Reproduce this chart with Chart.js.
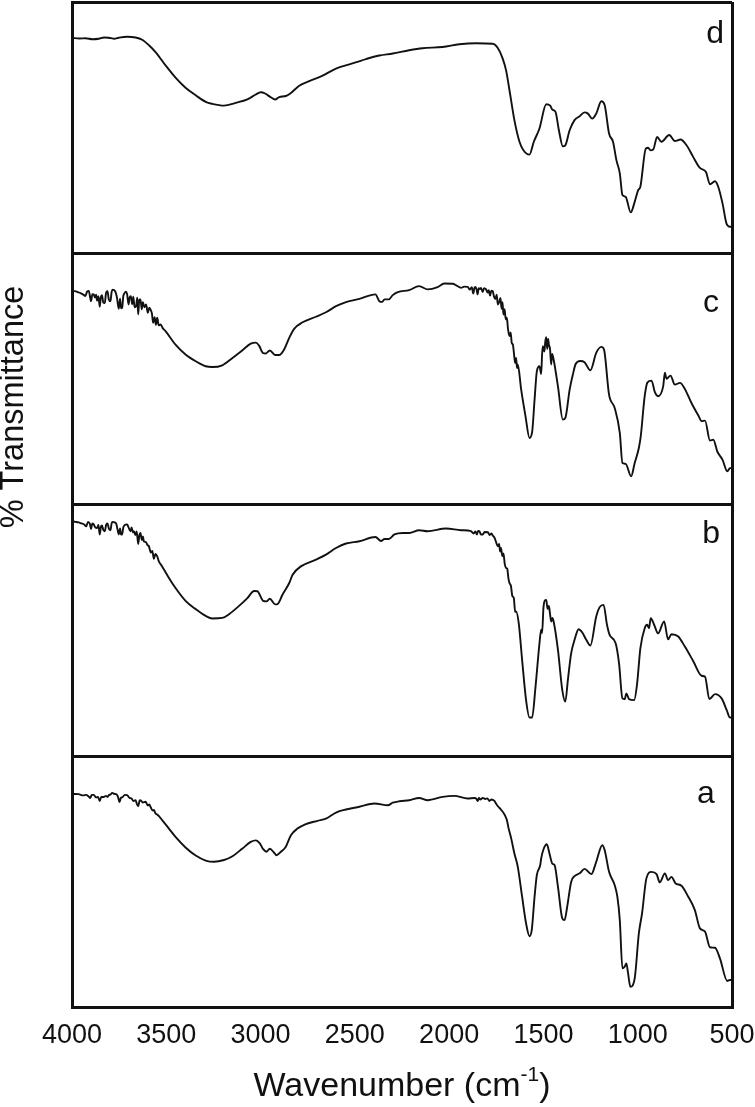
<!DOCTYPE html>
<html>
<head>
<meta charset="utf-8">
<title>FTIR spectra</title>
<script src="https://cdn.jsdelivr.net/npm/chart.js@4/dist/chart.umd.min.js"></script>
<style>
  html, body { margin: 0; padding: 0; background: #fff; }
  #wrap { position: relative; width: 755px; height: 1107px; }
</style>
</head>
<body>
<div id="wrap"><canvas id="chart" width="755" height="1107"></canvas></div>
<script>
// ---- data: [wavenumber (cm-1), % transmittance] per panel ----
const panelNames = ['a', 'b', 'c', 'd'];
const panelOffsets = [0, 100, 200, 300]; // spectra are stacked, one 100% band each
const xTicks = [4000, 3500, 3000, 2500, 2000, 1500, 1000, 500];
const xTitle = 'Wavenumber (cm';
const xTitleSup = '-1';
const yTitle = '% Transmittance';

const specA = [[4000,85.0],[3965,84.9],[3940,84.4],[3925,84.6],[3912,84.0],[3903,83.4],[3895,84.6],[3885,84.6],[3872,83.6],[3862,83.8],[3853,82.2],[3845,83.8],[3832,83.8],[3820,84.2],[3812,83.8],[3805,84.5],[3795,84.8],[3787,85.4],[3775,85.0],[3766,84.9],[3757,84.0],[3748,81.8],[3741,83.4],[3734,83.6],[3720,84.6],[3708,84.5],[3695,83.4],[3685,83.2],[3675,82.2],[3663,82.5],[3655,80.8],[3649,80.1],[3642,82.2],[3637,82.5],[3625,81.6],[3610,81.9],[3598,80.4],[3590,80.8],[3584,79.9],[3572,78.4],[3566,78.6],[3557,77.2],[3545,76.6],[3522,74.6],[3486,71.2],[3451,67.9],[3398,63.7],[3344,60.5],[3291,58.5],[3247,58.0],[3194,58.7],[3149,60.2],[3096,63.3],[3052,65.9],[3025,66.5],[3004,65.3],[2986,63.0],[2969,62.0],[2951,63.2],[2928,61.6],[2916,60.6],[2892,62.0],[2866,64.0],[2839,68.6],[2804,71.2],[2760,73.0],[2698,74.3],[2653,75.2],[2600,77.6],[2547,78.8],[2476,79.9],[2396,81.2],[2325,80.5],[2299,81.5],[2263,82.1],[2212,82.5],[2159,83.4],[2114,82.5],[2035,83.8],[1973,84.2],[1902,83.2],[1866,83.4],[1857,83.2],[1849,82.2],[1842,83.4],[1835,82.8],[1822,83.4],[1808,83.0],[1797,83.2],[1787,82.2],[1775,82.8],[1760,82.2],[1750,81.0],[1739,79.9],[1728,79.0],[1716,77.9],[1705,76.6],[1694,74.6],[1685,71.4],[1671,67.3],[1654,61.3],[1636,56.0],[1613,44.1],[1592,33.5],[1574,28.4],[1562,30.8],[1547,44.1],[1535,52.7],[1517,56.7],[1512,59.3],[1500,62.9],[1482,65.0],[1468,61.3],[1453,57.3],[1441,56.7],[1423,48.1],[1400,35.5],[1388,34.8],[1374,40.1],[1353,50.0],[1335,52.3],[1308,53.4],[1282,55.2],[1246,53.1],[1220,58.0],[1188,64.6],[1175,62.6],[1152,54.0],[1122,48.7],[1108,44.1],[1095,34.8],[1081,15.6],[1069,16.3],[1060,17.6],[1051,13.6],[1039,8.3],[1016,11.6],[994,29.5],[977,37.5],[954,51.4],[927,54.0],[900,53.1],[883,49.8],[856,53.4],[839,50.7],[821,52.0],[799,49.4],[768,48.5],[732,44.1],[697,38.8],[670,31.5],[643,30.2],[617,24.0],[590,23.8],[564,19.6],[525,10.6],[511,11.0],[500,11.0]];

const specB = [[4000,93.4],[3980,93.2],[3965,93.0],[3950,92.6],[3935,92.2],[3925,91.4],[3915,93.2],[3905,92.4],[3899,90.4],[3892,92.6],[3885,92.2],[3876,91.0],[3867,90.8],[3860,92.0],[3853,88.2],[3847,91.2],[3841,91.8],[3834,90.0],[3826,89.5],[3819,92.0],[3812,92.6],[3804,90.4],[3796,89.9],[3790,92.6],[3784,93.2],[3775,93.0],[3766,92.6],[3759,90.4],[3752,88.2],[3745,90.6],[3740,88.2],[3734,88.2],[3728,91.0],[3722,91.8],[3708,92.2],[3700,91.0],[3690,89.5],[3684,91.0],[3677,89.0],[3672,89.5],[3664,88.0],[3657,89.4],[3649,84.4],[3643,87.8],[3637,88.8],[3630,86.0],[3624,87.4],[3619,85.5],[3608,85.2],[3600,84.0],[3592,83.5],[3582,81.0],[3574,81.6],[3566,78.5],[3558,80.4],[3548,79.5],[3540,77.6],[3522,75.5],[3486,70.9],[3451,66.9],[3398,61.8],[3344,58.5],[3291,55.8],[3256,54.8],[3203,55.0],[3167,56.5],[3114,59.8],[3070,62.9],[3034,65.7],[3017,65.6],[2986,61.8],[2969,61.6],[2951,62.6],[2923,60.4],[2910,60.5],[2884,64.2],[2848,68.9],[2830,72.2],[2786,75.5],[2706,78.2],[2653,80.2],[2600,82.8],[2547,84.6],[2476,85.5],[2391,87.2],[2361,85.6],[2343,86.4],[2320,86.4],[2290,88.2],[2246,88.8],[2212,88.8],[2159,89.9],[2114,89.5],[2017,90.6],[1937,89.9],[1884,89.5],[1870,88.6],[1861,89.4],[1853,88.2],[1847,89.6],[1840,89.5],[1831,88.2],[1822,88.2],[1812,89.2],[1795,89.1],[1785,88.0],[1775,88.6],[1769,87.8],[1760,87.0],[1752,85.4],[1742,83.5],[1735,84.4],[1730,81.4],[1725,82.8],[1718,79.6],[1712,80.6],[1705,76.4],[1698,74.9],[1692,74.6],[1685,70.4],[1680,68.9],[1672,67.6],[1665,63.8],[1657,62.9],[1650,57.4],[1645,57.6],[1631,52.9],[1613,38.3],[1592,22.3],[1574,15.4],[1560,15.4],[1542,27.6],[1521,44.9],[1512,50.3],[1507,49.0],[1500,58.9],[1492,62.0],[1485,62.2],[1478,58.6],[1471,59.8],[1465,56.6],[1459,53.6],[1453,55.0],[1446,53.6],[1423,42.3],[1400,26.3],[1384,21.7],[1370,30.6],[1353,40.9],[1335,46.3],[1313,50.5],[1294,49.2],[1273,46.3],[1251,44.0],[1220,55.6],[1202,59.3],[1181,60.2],[1163,52.3],[1149,48.3],[1117,44.9],[1099,36.9],[1081,23.0],[1069,22.7],[1060,25.0],[1046,22.7],[1019,22.3],[1003,29.0],[986,42.9],[963,50.9],[950,52.3],[940,50.9],[931,54.9],[913,52.3],[892,48.9],[860,53.6],[839,46.5],[821,48.5],[785,47.6],[750,43.6],[706,37.9],[661,32.0],[643,31.6],[620,22.7],[590,24.7],[555,23.0],[528,18.3],[511,15.4],[500,15.4]];

const specC = [[4000,85.0],[3985,85.0],[3970,84.6],[3955,84.2],[3940,83.6],[3929,83.0],[3920,84.8],[3911,85.1],[3903,82.2],[3899,81.0],[3892,83.8],[3885,83.7],[3878,82.4],[3872,83.6],[3867,81.2],[3860,83.0],[3853,78.8],[3847,82.6],[3841,83.4],[3834,80.4],[3826,80.3],[3820,84.0],[3812,85.0],[3805,81.8],[3796,81.0],[3790,84.6],[3784,85.6],[3777,85.4],[3770,84.8],[3762,82.6],[3752,78.0],[3745,82.0],[3740,78.2],[3734,78.4],[3728,83.0],[3722,84.1],[3715,84.8],[3708,83.9],[3700,79.7],[3695,82.4],[3688,83.0],[3681,79.8],[3675,82.8],[3668,78.6],[3660,79.0],[3654,82.4],[3649,75.7],[3643,81.6],[3637,81.7],[3630,77.8],[3624,80.6],[3616,78.6],[3607,79.7],[3598,76.4],[3590,78.4],[3584,77.7],[3576,76.0],[3570,72.4],[3562,74.6],[3555,71.6],[3548,74.4],[3540,71.4],[3530,71.7],[3518,70.2],[3504,69.1],[3451,63.7],[3398,59.8],[3344,57.1],[3291,55.1],[3256,54.8],[3203,55.5],[3149,58.4],[3096,61.5],[3052,64.1],[3025,64.5],[3008,63.3],[2986,60.3],[2972,60.2],[2951,61.4],[2923,59.6],[2901,59.6],[2875,61.8],[2848,66.4],[2822,70.0],[2777,72.6],[2706,74.8],[2653,76.6],[2600,79.0],[2547,80.6],[2476,81.9],[2391,83.7],[2370,81.0],[2356,80.7],[2343,81.7],[2320,81.7],[2299,83.4],[2272,84.6],[2212,85.4],[2159,87.0],[2114,85.7],[2061,86.6],[2026,88.0],[1981,87.9],[1960,87.2],[1937,86.3],[1920,86.8],[1902,86.7],[1890,85.6],[1880,86.6],[1872,84.0],[1866,86.2],[1861,86.7],[1855,85.8],[1849,83.7],[1843,86.2],[1836,85.8],[1831,86.3],[1822,84.6],[1815,86.2],[1804,85.7],[1796,84.4],[1790,85.4],[1783,83.2],[1776,85.2],[1769,85.0],[1762,82.8],[1755,81.8],[1748,83.6],[1742,79.7],[1735,80.6],[1728,82.3],[1722,78.0],[1717,80.6],[1712,75.7],[1706,77.8],[1700,73.8],[1694,74.4],[1688,70.0],[1680,67.1],[1674,68.6],[1668,64.4],[1662,63.7],[1656,60.0],[1650,56.4],[1645,58.4],[1640,54.4],[1636,55.8],[1618,45.8],[1595,35.2],[1574,26.6],[1560,28.9],[1547,41.8],[1535,53.1],[1521,55.1],[1512,52.0],[1507,60.0],[1503,63.1],[1495,61.0],[1490,65.0],[1485,66.7],[1480,62.0],[1475,66.0],[1471,63.7],[1465,62.0],[1459,55.8],[1454,60.0],[1446,57.8],[1423,47.1],[1397,33.9],[1384,34.5],[1361,45.8],[1344,51.8],[1329,56.0],[1305,57.2],[1282,56.7],[1251,53.5],[1220,60.4],[1193,62.8],[1179,61.8],[1152,43.8],[1122,38.5],[1095,28.6],[1081,16.6],[1064,16.3],[1035,11.3],[1016,16.6],[994,22.6],[984,27.2],[963,43.2],[948,48.7],[927,49.4],[909,44.8],[892,43.2],[865,47.1],[856,52.5],[847,50.1],[826,51.4],[803,47.8],[776,48.5],[750,46.1],[715,40.5],[679,35.6],[661,33.3],[643,33.5],[617,25.6],[599,25.9],[578,21.2],[550,17.9],[525,13.3],[511,14.6],[500,14.6]];

const specD = [[4000,85.7],[3960,85.5],[3929,85.6],[3890,85.2],[3858,85.4],[3830,85.9],[3805,85.8],[3775,85.4],[3752,85.8],[3708,86.2],[3663,85.9],[3628,85.0],[3592,82.8],[3557,80.1],[3504,74.8],[3451,69.9],[3398,65.9],[3344,62.9],[3291,60.3],[3256,59.5],[3194,58.8],[3132,59.9],[3070,61.3],[3025,63.2],[2999,64.1],[2976,63.6],[2946,62.1],[2923,61.2],[2901,62.2],[2866,62.6],[2839,63.8],[2795,66.7],[2742,68.5],[2671,70.7],[2600,73.5],[2529,75.2],[2441,77.3],[2370,78.7],[2299,79.5],[2212,80.8],[2141,81.6],[2035,82.1],[1946,83.2],[1857,83.6],[1769,83.4],[1742,81.7],[1716,77.5],[1698,72.8],[1680,64.9],[1654,53.0],[1627,44.4],[1606,41.0],[1574,39.3],[1551,44.4],[1521,49.7],[1485,59.3],[1464,58.8],[1453,57.2],[1436,56.3],[1418,49.0],[1397,42.6],[1384,43.0],[1361,49.0],[1335,53.0],[1308,54.6],[1282,56.1],[1264,55.6],[1241,53.6],[1220,55.6],[1193,60.5],[1175,58.9],[1152,47.7],[1131,44.4],[1113,37.1],[1095,31.8],[1081,23.2],[1064,22.5],[1037,16.3],[1016,20.5],[998,25.1],[986,26.5],[957,41.7],[945,42.0],[932,41.0],[918,41.3],[897,46.3],[874,44.4],[833,47.1],[803,44.7],[773,45.3],[741,43.0],[706,38.4],[670,34.0],[638,32.4],[617,27.5],[590,28.7],[573,26.5],[550,19.8],[528,11.6],[511,10.6],[500,10.6]];

const spectra = [specA, specB, specC, specD];

// ---- helpers ----
const INK = '#111';
const FONT = '"Liberation Sans", Arial, sans-serif';

function buildDatasets() {
  return spectra.map((spec, i) => ({
    label: panelNames[i],
    data: spec.map(([x, t]) => ({ x, y: t + panelOffsets[i] })),
    borderColor: INK,
    borderWidth: 1.9,
    pointRadius: 0,
    cubicInterpolationMode: 'monotone',
    fill: false,
  }));
}

// panel letters and the two axis titles (superscript and off-centre title need manual text)
const textPlugin = {
  id: 'spectraText',
  afterDraw(chart) {
    const { ctx, scales: { x, y } } = chart;
    ctx.save();
    ctx.fillStyle = INK;
    ctx.textBaseline = 'middle';

    // letter anchors, in axis units
    const spots = [[638, 85], [611, 188.2], [611, 280.2], [590, 387.2]];
    ctx.font = `32px ${FONT}`;
    ctx.textAlign = 'center';
    spots.forEach(([wn, v], i) => {
      ctx.fillText(panelNames[i], x.getPixelForValue(wn), y.getPixelForValue(v));
    });

    // x title
    ctx.font = `34px ${FONT}`;
    const w1 = ctx.measureText(xTitle).width;
    const w3 = ctx.measureText(')').width;
    ctx.font = `21px ${FONT}`;
    const w2 = ctx.measureText(xTitleSup).width;
    const tx = (x.left + x.right) / 2 - (w1 + w2 + w3) / 2;
    ctx.textAlign = 'left';
    ctx.fillText(xTitleSup, tx + w1, 1075);
    ctx.font = `34px ${FONT}`;
    ctx.fillText(xTitle, tx, 1087);
    ctx.fillText(')', tx + w1 + w2, 1087);

    // y title
    ctx.translate(14, 407);
    ctx.rotate(-Math.PI / 2);
    ctx.textAlign = 'center';
    ctx.font = `32.5px ${FONT}`;
    ctx.fillText(yTitle, 0, 0);
    ctx.restore();
  },
};

new Chart(document.getElementById('chart'), {
  type: 'line',
  data: { datasets: buildDatasets() },
  plugins: [textPlugin],
  options: {
    responsive: false,
    animation: false,
    devicePixelRatio: 1,
    layout: { padding: { left: 72, right: 23, top: 2, bottom: 43 } },
    plugins: { legend: { display: false }, tooltip: { enabled: false } },
    scales: {
      x: {
        type: 'linear',
        reverse: true,
        min: 500,
        max: 4000,
        afterBuildTicks: (s) => { s.ticks = xTicks.map(value => ({ value })); },
        // the end labels may hang over the plot edges, the padding above is what counts
        afterFit: (s) => { s.paddingLeft = 0; s.paddingRight = 0; },
        grid: {
          drawTicks: false,
          lineWidth: 3,
          color: (c) => (c.tick && (c.tick.value === 500 || c.tick.value === 4000) ? INK : 'transparent'),
        },
        border: { color: INK, width: 3 },
        ticks: {
          color: INK,
          padding: 12,
          maxRotation: 0,
          autoSkip: false,
          font: { family: FONT, size: 27 },
          callback: (v) => String(v),
        },
      },
      y: {
        min: 0,
        max: 400,
        grid: { drawTicks: false, lineWidth: 3, color: INK },
        border: { color: INK, width: 3 },
        ticks: { display: false, stepSize: 100 },
      },
    },
  },
});
</script>
</body>
</html>
